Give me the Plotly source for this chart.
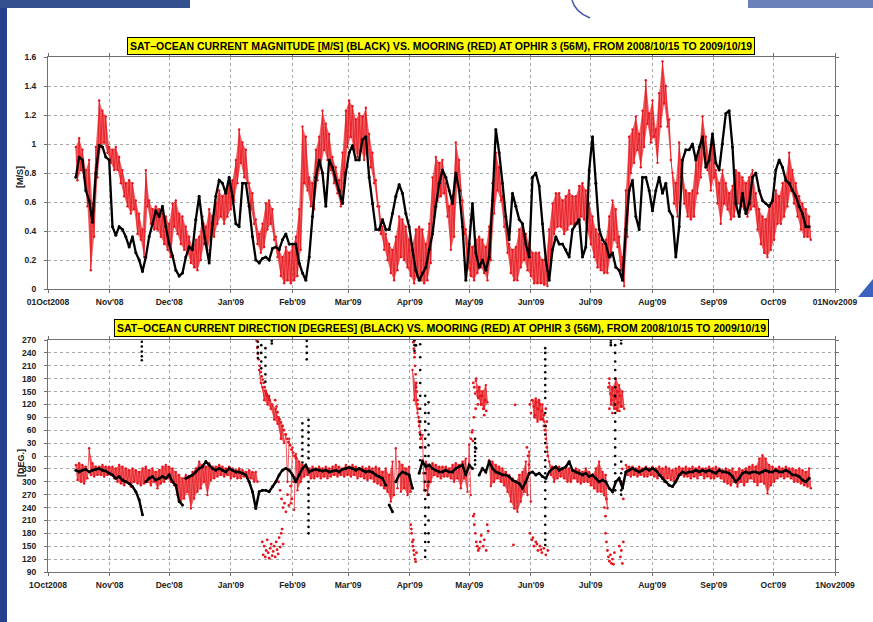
import pandas as pd
import plotly.graph_objects as go

# ---------------- data ----------------
ORIGIN = pd.Timestamp("2008-10-01")
SERIES_START, SERIES_END, N_SAMPLES = "2008-10-15", "2009-10-19", 221

# satellite current magnitude [m/s] (black)
sat_speed = [
    0.77, 0.91, 0.89, 0.68, 0.61, 0.46, 0.80, 0.99, 0.98, 0.91,
    0.89, 0.43, 0.37, 0.43, 0.41, 0.36, 0.29, 0.36, 0.25, 0.20,
    0.12, 0.22, 0.36, 0.45, 0.54, 0.50, 0.57, 0.43, 0.31, 0.23,
    0.13, 0.09, 0.11, 0.22, 0.29, 0.27, 0.48, 0.64, 0.45, 0.31,
    0.18, 0.45, 0.64, 0.75, 0.73, 0.66, 0.77, 0.64, 0.45, 0.43,
    0.73, 0.73, 0.57, 0.36, 0.20, 0.18, 0.21, 0.22, 0.20, 0.28,
    0.29, 0.27, 0.34, 0.38, 0.31, 0.31, 0.31, 0.18, 0.11, 0.06,
    0.22, 0.50, 0.77, 0.89, 0.80, 0.57, 0.89, 0.84, 0.75, 0.68,
    0.59, 0.80, 0.94, 0.99, 0.89, 0.89, 1.03, 1.05, 0.77, 0.59,
    0.41, 0.41, 0.48, 0.41, 0.41, 0.52, 0.64, 0.72, 0.66, 0.52,
    0.43, 0.27, 0.13, 0.06, 0.11, 0.15, 0.27, 0.38, 0.57, 0.73,
    0.82,
    0.77, 0.68, 0.59, 0.80, 0.68, 0.43, 0.06, 0.31, 0.59,
    0.25, 0.15, 0.20, 0.13, 0.22, 0.61, 1.10, 0.94, 0.73, 0.50,
    0.34, 0.66, 0.57, 0.48, 0.45, 0.31, 0.22, 0.77, 0.80, 0.71,
    0.45, 0.20, 0.06, 0.27, 0.36, 0.31, 0.31, 0.27, 0.22, 0.41,
    0.45, 0.48, 0.22, 0.29, 0.82, 1.05, 0.73, 0.41, 0.34, 0.31,
    0.22, 0.25, 0.15, 0.13, 0.06, 0.41, 0.68, 0.75, 0.50, 0.41,
    0.77, 0.77, 0.68, 0.54, 0.68, 0.77, 0.66, 0.73, 0.54, 0.50,
    0.22, 0.43, 0.89, 0.96, 0.96, 1.00, 0.89, 0.98, 1.05, 0.84,
    0.89, 1.07, 0.87, 0.82, 1.00, 1.21, 1.23, 0.98, 0.59, 0.50,
    0.66, 0.52, 0.59, 0.77, 0.80, 0.68, 0.61, 0.59, 0.57, 0.61,
    0.82, 0.89, 0.84, 0.75, 0.73, 0.68, 0.64, 0.57, 0.52, 0.43,
    0.43,
]

# mooring current magnitude [m/s] (red): upper / lower edge of the noisy band
mooring_speed_hi = [
    0.98, 1.04, 0.96, 0.82, 0.89, 0.59, 0.98, 1.30, 1.23, 1.19,
    0.98, 0.96, 0.98, 0.91, 0.82, 0.73, 0.75, 0.73, 0.61, 0.52,
    0.41, 0.82, 0.61, 0.55, 0.57, 0.55, 0.52, 0.50, 0.45, 0.59,
    0.61, 0.52, 0.50, 0.43, 0.36, 0.29, 0.34, 0.36, 0.50, 0.43,
    0.55, 0.50, 0.59, 0.68, 0.64, 0.68, 0.73, 0.75, 0.89, 1.10,
    1.01, 0.96, 0.73, 0.66, 0.48, 0.38, 0.45, 0.59, 0.61, 0.55,
    0.36, 0.27, 0.22, 0.29, 0.25, 0.29, 0.36, 0.55, 1.12, 1.05,
    0.77, 0.73, 0.96, 1.05, 1.23, 1.14, 1.07, 0.91, 0.84, 0.75,
    0.94, 1.23, 1.30, 1.26, 1.17, 1.21, 1.19, 1.25, 1.07, 0.94,
    0.75, 0.57, 0.43, 0.38, 0.31, 0.27, 0.36, 0.50, 0.48, 0.43,
    0.34, 0.31, 0.41, 0.43, 0.41, 0.31, 0.45, 0.77, 0.91, 0.87,
    0.89,
    0.73, 0.57, 0.64, 1.01, 0.89, 0.61, 0.41, 0.31, 0.29,
    0.34, 0.36, 0.34, 0.29, 0.43, 0.73, 0.94, 0.84, 0.64, 0.45,
    0.31, 0.27, 0.29, 0.41, 0.45, 0.38, 0.31, 0.25, 0.25, 0.25,
    0.20, 0.22, 0.41, 0.59, 0.66, 0.66, 0.61, 0.64, 0.68, 0.64,
    0.64, 0.71, 0.73, 0.68, 0.59, 0.50, 0.41, 0.38, 0.31, 0.34,
    0.50, 0.61, 0.55, 0.36, 0.22, 0.68, 1.05, 1.10, 1.19, 1.07,
    1.23, 1.44, 1.21, 1.30, 1.10, 1.35, 1.57, 1.40, 1.17, 0.80,
    0.73, 1.01, 0.80, 0.68, 0.66, 0.68, 0.89, 0.98, 1.19, 1.05,
    0.91, 1.03, 0.82, 0.73, 0.82, 0.73, 0.66, 0.71, 0.82, 0.80,
    0.77, 0.73, 0.77, 0.82, 0.66, 0.55, 0.50, 0.48, 0.57, 0.61,
    0.68, 0.64, 0.73, 0.77, 0.94, 0.82, 0.73, 0.64, 0.59, 0.55,
    0.50,
]
mooring_speed_lo = [
    0.75, 0.82, 0.77, 0.57, 0.13, 0.36, 0.77, 0.98, 1.01, 0.94,
    0.87, 0.82, 0.82, 0.73, 0.64, 0.57, 0.52, 0.55, 0.38, 0.34,
    0.22, 0.57, 0.45, 0.41, 0.41, 0.36, 0.31, 0.27, 0.22, 0.43,
    0.38, 0.31, 0.27, 0.25, 0.18, 0.15, 0.13, 0.20, 0.31, 0.27,
    0.36, 0.36, 0.45, 0.50, 0.45, 0.50, 0.55, 0.61, 0.73, 0.87,
    0.77, 0.73, 0.55, 0.45, 0.31, 0.25, 0.29, 0.41, 0.45, 0.34,
    0.22, 0.09, 0.04, 0.06, 0.04, 0.06, 0.09, 0.27, 0.73, 0.68,
    0.57, 0.55, 0.75, 0.84, 0.96, 0.89, 0.82, 0.73, 0.66, 0.57,
    0.73, 0.98, 1.05, 0.96, 0.91, 0.96, 0.89, 0.96, 0.84, 0.73,
    0.57, 0.38, 0.27, 0.20, 0.11, 0.06, 0.13, 0.22, 0.20, 0.15,
    0.09, 0.04, 0.09, 0.06, 0.04, 0.06, 0.18, 0.50, 0.61, 0.64,
    0.66,
    0.50, 0.27, 0.36, 0.73, 0.68, 0.38, 0.15, 0.09, 0.06,
    0.11, 0.15, 0.11, 0.06, 0.20, 0.52, 0.68, 0.61, 0.43, 0.25,
    0.11, 0.06, 0.06, 0.15, 0.20, 0.13, 0.09, 0.04, 0.04, 0.04,
    0.03, 0.02, 0.20, 0.38, 0.43, 0.43, 0.38, 0.41, 0.45, 0.43,
    0.45, 0.50, 0.48, 0.41, 0.31, 0.22, 0.15, 0.13, 0.11, 0.11,
    0.22, 0.34, 0.29, 0.13, 0.02, 0.36, 0.80, 0.87, 0.96, 0.84,
    0.98, 1.14, 1.01, 1.05, 0.87, 1.12, 1.28, 1.12, 0.89, 0.59,
    0.50, 0.77, 0.59, 0.50, 0.48, 0.50, 0.66, 0.77, 0.94, 0.82,
    0.68, 0.77, 0.59, 0.45, 0.59, 0.55, 0.48, 0.50, 0.59, 0.57,
    0.55, 0.50, 0.55, 0.57, 0.41, 0.31, 0.25, 0.22, 0.27, 0.34,
    0.45, 0.45, 0.50, 0.57, 0.68, 0.59, 0.50, 0.41, 0.36, 0.36,
    0.34,
]

# direction, in the plot's unwrapped degrees (90..630; labels are value mod 360)
sat_dir = [
    327, 323, 327, 329, 323, 327, 329, 331, 327, 325,
    320, 316, 308, 312, 304, 300, 296, 289, 277, 258,
    223, 300, 308, 312, 304, 308, 312, 308, 316, 300,
    292, 254, 246, 308, 312, 316, 323, 331, 335, 347,
    339, 331, 327, 331, 327, 323, 331, 327, 323, 323,
    320, 316, 300, 277, 238, 277, 280, 280, 277, 289,
    300, 316, 327, 331, 327, 316, 300, 316, 331, 339,
    323, 327, 329, 327, 325, 327, 323, 325, 327, 323,
    329, 331, 333, 331, 327, 331, 327, 323, 325, 322,
    316, 312, 308, 292, 246, 230, 300, 316, 323, 320,
    316, 285, 618, 320, 347, 335, 339, 331, 327, 323,
    323,
    327, 323, 323, 331, 335, 339, 316, 339, 331,
    378, 316, 331, 323, 347, 331, 323, 320, 316, 316,
    312, 304, 300, 296, 285, 300, 320, 323, 316, 320,
    312, 308, 323, 331, 335, 327, 331, 335, 347, 327,
    323, 320, 316, 320, 312, 316, 308, 300, 304, 300,
    285, 277, 300, 308, 285, 323, 327, 331, 327, 323,
    327, 331, 327, 331, 327, 316, 308, 300, 292, 289,
    300, 316, 323, 320, 323, 323, 327, 323, 327, 323,
    327, 323, 320, 327, 323, 323, 320, 312, 300, 308,
    320, 323, 320, 323, 323, 320, 323, 327, 323, 323,
    327, 323, 323, 327, 323, 316, 316, 312, 304, 300,
    308,
]
mooring_dir_hi = [
    339, 343, 339, 335, 378, 343, 335, 335, 339, 335,
    335, 335, 331, 339, 335, 331, 327, 331, 327, 323,
    331, 335, 327, 331, 323, 327, 335, 339, 335, 331,
    323, 316, 308, 316, 308, 323, 331, 347, 339, 335,
    343, 335, 335, 339, 335, 331, 335, 331, 327, 331,
    327, 323, 327, 323, 323, 560, 520, 510, 500, 480,
    470, 445, 430, 410, 400, 380, 365, 347, 339, 335,
    331, 335, 331, 335, 331, 335, 331, 335, 339, 335,
    331, 339, 335, 339, 335, 331, 335, 331, 335, 331,
    335, 331, 323, 331, 316, 347, 378, 347, 339, 331,
    335, 560, 525, 440, 409, 347, 339, 343, 339, 335,
    335,
    335, 331, 339, 343, 339, 347, 354, 386, 420,
    535, 520, 510, 525, 350, 347, 339, 335, 331, 323,
    316, 308, 300, 316, 323, 347, 370, 490, 494, 485,
    480, 430, 347, 335, 331, 335, 331, 335, 331, 327,
    331, 327, 323, 331, 323, 316, 331, 347, 323, 316,
    530, 520, 540, 525, 510, 339, 335, 335, 331, 335,
    331, 335, 331, 335, 331, 335, 331, 335, 331, 327,
    331, 335, 331, 335, 331, 335, 331, 335, 331, 331,
    335, 331, 335, 331, 327, 331, 327, 331, 323, 331,
    327, 331, 335, 339, 335, 354, 362, 354, 339, 335,
    331, 335, 331, 335, 331, 331, 327, 331, 327, 323,
    331,
]
mooring_dir_lo = [
    304, 300, 296, 308, 316, 312, 316, 316, 312, 316,
    316, 308, 300, 296, 292, 300, 289, 300, 296, 292,
    296, 300, 292, 300, 285, 296, 300, 308, 300, 292,
    269, 254, 261, 277, 238, 261, 277, 285, 300, 269,
    304, 308, 312, 316, 312, 316, 308, 312, 308, 308,
    312, 308, 308, 300, 300, 530, 490, 480, 470, 445,
    435, 400, 390, 300, 250, 235, 280, 300, 312, 316,
    308, 308, 312, 308, 312, 308, 312, 316, 312, 316,
    312, 316, 312, 316, 308, 312, 308, 304, 308, 300,
    296, 292, 285, 277, 254, 269, 285, 277, 285, 269,
    277, 490, 460, 400, 280, 269, 300, 316, 312, 308,
    312,
    312, 308, 300, 308, 285, 308, 277, 269, 225,
    500, 480, 470, 485, 290, 300, 308, 300, 292, 277,
    254, 238, 230, 254, 277, 269, 254, 450, 440, 445,
    440, 370, 316, 300, 308, 312, 308, 300, 300, 308,
    300, 296, 300, 300, 292, 285, 277, 277, 269, 238,
    480, 470, 465, 475, 470, 316, 312, 316, 312, 316,
    312, 312, 316, 312, 308, 316, 300, 308, 304, 300,
    308, 316, 312, 312, 308, 312, 308, 316, 308, 312,
    308, 308, 312, 308, 300, 296, 292, 300, 289, 300,
    292, 300, 308, 300, 292, 300, 296, 273, 292, 300,
    308, 312, 308, 312, 308, 300, 300, 296, 292, 289,
    285,
]

# satellite direction during fast rotations: (day after 2008-10-01, [degrees])
sat_dir_columns = [
    (47.2, [626, 615, 603, 592, 583]),
    (105.6, [626, 614, 600, 588]),
    (107.3, [618, 600, 580, 564]),
    (109.4, [611, 590, 570, 550, 533]),
    (112.6, [628, 622]),
    (128.0, [436, 420, 405, 390, 375, 360, 345]),
    (130.2, [628, 615, 600, 585]),
    (131.1, [444, 430, 415, 400, 385, 370, 355, 300, 285, 270, 255, 240, 225, 210, 195, 180]),
    (184.4, [629, 618, 605]),
    (187.3, [620, 590, 560, 530, 500, 470, 440, 410, 380, 350]),
    (189.8, [500, 480, 460, 440, 420, 400, 380, 360, 340, 320, 300, 280, 260, 240, 220, 200, 180, 160, 140, 125]),
    (191.5, [485, 460, 435, 410, 385, 360, 300, 270, 240, 210, 180, 160]),
    (214.9, [400, 390, 380, 370, 360, 350, 340]),
    (250.2, [611, 600, 585, 570, 555, 540, 525, 510, 495, 460, 430, 410, 390, 370, 350, 335,
             320, 300, 280, 260, 240, 220, 200, 180, 165, 153]),
    (283.2, [630, 624, 618]),
    (285.4, [618, 600, 580, 560, 540, 520, 500, 480, 460, 440, 420, 400, 380, 360, 340, 320, 300, 280]),
    (288.4, [630, 622, 347, 320, 300, 280, 270]),
]

# mooring direction scatter during rotations: (day after 2008-10-01, degrees)
mooring_dir_scatter = [
    (107.8, 160), (108.3, 130), (108.8, 150), (109.3, 125), (109.8, 140), (110.3, 165),
    (110.8, 135), (111.3, 122), (111.8, 145), (112.3, 155), (112.8, 128), (113.3, 138),
    (113.8, 150), (114.3, 125), (114.8, 160), (115.3, 142), (115.8, 132), (116.3, 170),
    (116.8, 148), (117.3, 180), (117.8, 190), (118.3, 155),
    (105.0, 628), (105.3, 612), (105.6, 598), (106.0, 585), (106.5, 570), (107.0, 555),
    (107.5, 545), (108.0, 538), (108.5, 530), (109.0, 520), (109.5, 512), (110.0, 505),
    (110.5, 500), (111.0, 495), (111.5, 490),
    (114.3, 490), (115.0, 475), (115.5, 462), (116.0, 450), (116.5, 445), (117.2, 438),
    (118.0, 430), (118.7, 420), (119.5, 410), (120.3, 400), (121.0, 392), (121.8, 385),
    (122.5, 375), (123.3, 368), (124.0, 360), (124.8, 355),
    (116.0, 300), (116.8, 280), (117.5, 260), (118.2, 240), (119.0, 250), (119.7, 230),
    (120.5, 270), (121.2, 245), (122.0, 290), (122.7, 260), (123.5, 300), (124.2, 310),
    (183.8, 625), (184.1, 610), (184.4, 590), (184.7, 570), (185.0, 550), (185.3, 530),
    (185.6, 510), (185.9, 490), (186.2, 470), (186.5, 450), (186.8, 430), (187.1, 415),
    (187.4, 400), (184.5, 600), (185.2, 520), (186.0, 480), (186.6, 440),
    (188.0, 380), (188.5, 350), (189.0, 320), (189.5, 300), (190.0, 280), (190.5, 330), (191.0, 290),
    (182.5, 200), (182.8, 190), (183.0, 180), (183.3, 160), (183.6, 150), (183.8, 165),
    (184.0, 140), (184.3, 130), (184.7, 120), (185.0, 114), (185.4, 135),
    (214.0, 530), (214.5, 520), (215.0, 505), (215.5, 540), (216.0, 510), (216.5, 495),
    (217.0, 520), (217.5, 500), (218.0, 480), (218.5, 500), (219.0, 470), (219.5, 455),
    (220.0, 490), (220.5, 465), (214.3, 450), (215.2, 470), (216.3, 480),
    (214.0, 220), (214.5, 200), (215.0, 180), (215.5, 160), (216.0, 150), (216.5, 140),
    (217.0, 145), (217.5, 160), (218.0, 175), (219.0, 150), (219.5, 165), (220.5, 140),
    (221.0, 200), (221.5, 185), (212.8, 400), (213.3, 415), (213.8, 395),
    (235.0, 479), (234.2, 153),
    (242.5, 480), (243.0, 460), (243.5, 490), (244.5, 475), (245.0, 455), (245.5, 485),
    (246.5, 470), (247.0, 490), (247.5, 480), (248.5, 465), (249.0, 445), (249.5, 455),
    (250.5, 470), (251.0, 440),
    (242.5, 180), (243.5, 165), (244.0, 170), (244.5, 150), (245.5, 160), (246.0, 155),
    (246.5, 140), (247.5, 150), (248.0, 142), (248.5, 135), (249.5, 145), (250.5, 130),
    (251.5, 140),
    (241.0, 380), (241.5, 360), (242.0, 340), (249.5, 430), (250.0, 420), (250.5, 400),
    (251.0, 380), (251.5, 360),
    (282.0, 520), (282.5, 540), (283.0, 505), (283.5, 490), (284.0, 515), (284.5, 500),
    (285.0, 480), (285.5, 495), (286.0, 470), (286.5, 510), (287.0, 485), (287.5, 465),
    (288.0, 500), (288.5, 475), (282.5, 470), (284.0, 460),
    (280.5, 180), (281.0, 160), (281.5, 140), (282.0, 125), (282.5, 115), (283.0, 130),
    (283.5, 110), (284.0, 120), (284.5, 108), (285.0, 135), (287.5, 150), (288.0, 125),
    (288.5, 140), (289.0, 110), (289.5, 160),
    (280.0, 240), (280.5, 220), (281.0, 260), (288.5, 300), (289.0, 330), (289.5, 260),
]

month_ticks = pd.date_range("2008-10-01", "2009-11-01", freq="MS")
top_tick_text = ["01Oct2008", "Nov'08", "Dec'08", "Jan'09", "Feb'09", "Mar'09", "Apr'09",
                 "May'09", "Jun'09", "Jul'09", "Aug'09", "Sep'09", "Oct'09", "01Nov2009"]
bottom_tick_text = ["1Oct2008", "Nov'08", "Dec'08", "Jan'09", "Feb'09", "Mar'09", "Apr'09",
                    "May'09", "Jun'09", "Jul'09", "Aug'09", "Sep'09", "Oct'09", "1Nov2009"]
speed_ticks = [0, 0.2, 0.4, 0.6, 0.8, 1.0, 1.2, 1.4, 1.6]
speed_tick_text = ["0", "0.2", "0.4", "0.6", "0.8", "1", "1.2", "1.4", "1.6"]
dir_ticks = list(range(90, 631, 30))
dir_tick_text = [str(v % 360) for v in dir_ticks]

title_top = ("SAT\u2013OCEAN CURRENT MAGNITUDE [M/S] (BLACK) VS. MOORING (RED) AT OPHIR 3 (56M), "
             "FROM 2008/10/15 TO 2009/10/19")
title_bottom = ("SAT\u2013OCEAN CURRENT DIRECTION [DEGREES] (BLACK) VS. MOORING (RED) AT OPHIR 3 (56M), "
                "FROM 2008/10/15 TO 2009/10/19")

# ---------------- figure ----------------
W, H = 873, 622
ML, MR, MT, MB = 48, 38, 57, 50
PW, PH = W - ML - MR, H - MT - MB

def px_x(px):
    return (px - ML) / PW

def px_y(py):
    return (H - MB - py) / PH

RED = "#e8141c"
RED_FILL = "rgba(234, 30, 36, 0.7)"
BLACK = "#000000"
FONT = "Liberation Sans, Arial, Helvetica, sans-serif"

dates = list(pd.date_range(SERIES_START, SERIES_END, periods=N_SAMPLES))
half = pd.Timedelta(hours=20)

fig = go.Figure()


def broken(xv, yv, max_jump):
    xs, ys, prev = [], [], None
    for xx, yy in zip(xv, yv):
        if prev is not None and abs(yy - prev) > max_jump:
            xs.append(None)
            ys.append(None)
        xs.append(xx)
        ys.append(yy)
        prev = yy
    return xs, ys


def red_band(hi, lo, xaxis, yaxis, max_span, max_jump, msize, lw):
    # filled polygons between the upper and lower edge, for each continuous run
    runs, cur = [], []
    for i, (h, l) in enumerate(zip(hi, lo)):
        ok = (h - l) <= max_span
        if cur and (not ok or abs(h - hi[cur[-1]]) > max_jump or abs(l - lo[cur[-1]]) > max_jump):
            runs.append(cur)
            cur = []
        if ok:
            cur.append(i)
    if cur:
        runs.append(cur)
    px, py = [], []
    for run in runs:
        if len(run) < 2:
            continue
        px += [dates[i] for i in run] + [dates[i] + half for i in reversed(run)] + [None]
        py += [hi[i] for i in run] + [lo[i] for i in reversed(run)] + [None]
    fig.add_trace(go.Scatter(x=px, y=py, mode="lines", fill="toself", fillcolor=RED_FILL,
                             line=dict(width=0), xaxis=xaxis, yaxis=yaxis, hoverinfo="skip"))
    # noisy texture: zig-zag between the two edges
    zx, zy, prev = [], [], None
    for d, h, l in zip(dates, hi, lo):
        for xx, yy in ((d, h), (d + half, l)):
            if prev is not None and abs(yy - prev) > max_jump + max_span:
                zx.append(None)
                zy.append(None)
            zx.append(xx)
            zy.append(yy)
            prev = yy
    fig.add_trace(go.Scatter(x=zx, y=zy, mode="lines+markers", xaxis=xaxis, yaxis=yaxis,
                             line=dict(color=RED, width=lw), marker=dict(color=RED, size=msize),
                             hoverinfo="skip"))


# --- top panel
red_band(mooring_speed_hi, mooring_speed_lo, "x", "y", 10, 10, 2.4, 0.8)
fig.add_trace(go.Scatter(x=dates, y=sat_speed, mode="lines+markers", xaxis="x", yaxis="y",
                         line=dict(color=BLACK, width=2.3), marker=dict(color=BLACK, size=3),
                         hoverinfo="skip"))

# --- bottom panel
red_band(mooring_dir_hi, mooring_dir_lo, "x2", "y2", 90, 40, 2.4, 0.7)
fig.add_trace(go.Scatter(x=[ORIGIN + pd.Timedelta(days=d) for d, _ in mooring_dir_scatter],
                         y=[v for _, v in mooring_dir_scatter], mode="markers",
                         xaxis="x2", yaxis="y2", marker=dict(color=RED, size=2.8),
                         hoverinfo="skip"))
bdx, bdy = broken(dates, sat_dir, 40)
fig.add_trace(go.Scatter(x=bdx, y=bdy, mode="lines+markers", xaxis="x2", yaxis="y2",
                         line=dict(color=BLACK, width=2.4), marker=dict(color=BLACK, size=3),
                         hoverinfo="skip"))
col_x, col_y = [], []
for d, vals in sat_dir_columns:
    for v in vals:
        col_x.append(ORIGIN + pd.Timedelta(days=d))
        col_y.append(v)
fig.add_trace(go.Scatter(x=col_x, y=col_y, mode="markers", xaxis="x2", yaxis="y2",
                         marker=dict(color=BLACK, size=2.6), hoverinfo="skip"))

tickfont = dict(family=FONT, size=8.5, color="#222222", weight="bold")
common_x = dict(range=[month_ticks[0], month_ticks[-1]], tickvals=list(month_ticks),
                showgrid=True, gridcolor="#a8a8a8", griddash="dot", gridwidth=1,
                showline=True, linecolor="#707070", linewidth=1, mirror="ticks",
                ticks="outside", ticklen=3, tickcolor="#707070", tickfont=tickfont,
                zeroline=False, domain=[0, 1], ticklabelstandoff=2)
common_y = dict(showgrid=True, gridcolor="#a8a8a8", griddash="dot", gridwidth=1,
                showline=True, linecolor="#707070", linewidth=1, mirror="ticks",
                ticks="outside", ticklen=3, tickcolor="#707070", tickfont=tickfont,
                zeroline=False, ticklabelstandoff=6)

fig.update_layout(
    width=W, height=H, margin=dict(l=ML, r=MR, t=MT, b=MB),
    paper_bgcolor="white", plot_bgcolor="white", showlegend=False,
    xaxis=dict(anchor="y", ticktext=top_tick_text, **common_x),
    yaxis=dict(anchor="x", domain=[px_y(289), 1], range=[0, 1.6], tickvals=speed_ticks,
               ticktext=speed_tick_text, **common_y),
    xaxis2=dict(anchor="y2", ticktext=bottom_tick_text, **common_x),
    yaxis2=dict(anchor="x2", domain=[0, px_y(340)], range=[90, 630], tickvals=dir_ticks,
                ticktext=dir_tick_text, **common_y),
)

title_font = dict(family=FONT, size=10.5, color="black", weight="bold")
fig.add_annotation(text=title_top, xref="paper", yref="paper", x=px_x(441), y=px_y(45.5),
                   xanchor="center", yanchor="middle", showarrow=False, font=title_font,
                   bgcolor="#ffff00", bordercolor="black", borderwidth=1, borderpad=2)
fig.add_annotation(text=title_bottom, xref="paper", yref="paper", x=px_x(441), y=px_y(327.5),
                   xanchor="center", yanchor="middle", showarrow=False, font=title_font,
                   bgcolor="#ffff00", bordercolor="black", borderwidth=1, borderpad=2)
label_font = dict(family=FONT, size=9, color="#222222", weight="bold")
fig.add_annotation(text="[M/S]", xref="paper", yref="paper", x=px_x(20), y=px_y(177),
                   textangle=-90, showarrow=False, font=label_font,
                   xanchor="center", yanchor="middle")
fig.add_annotation(text="[DEG.]", xref="paper", yref="paper", x=px_x(21), y=px_y(463),
                   textangle=-90, showarrow=False, font=label_font,
                   xanchor="center", yanchor="middle")

# slide decoration around the picture
fig.add_shape(type="rect", xref="paper", yref="paper", x0=px_x(0), x1=px_x(7),
              y0=px_y(H), y1=px_y(0), fillcolor="#243f8c", line=dict(width=0), layer="above")
fig.add_shape(type="rect", xref="paper", yref="paper", x0=px_x(0), x1=px_x(190),
              y0=px_y(8), y1=px_y(0), fillcolor="#34508f", line=dict(width=0), layer="above")
fig.add_shape(type="rect", xref="paper", yref="paper", x0=px_x(748), x1=px_x(W),
              y0=px_y(8), y1=px_y(0), fillcolor="#6b82b8", line=dict(width=0), layer="above")
fig.add_shape(type="path", xref="paper", yref="paper",
              path=(f"M {px_x(572)},{px_y(0)} Q {px_x(575)},{px_y(12)} {px_x(590)},{px_y(18)}"),
              line=dict(color="#3f5aa6", width=1.5), layer="above")
fig.add_shape(type="path", xref="paper", yref="paper",
              path=(f"M {px_x(858)},{px_y(297)} L {px_x(W)},{px_y(279)} L {px_x(W)},{px_y(297)} Z"),
              fillcolor="#3a62c0", line=dict(width=0), layer="above")

fig.write_html("out.html", config={"displayModeBar": False},
               post_script="document.body.style.margin='0px';")
